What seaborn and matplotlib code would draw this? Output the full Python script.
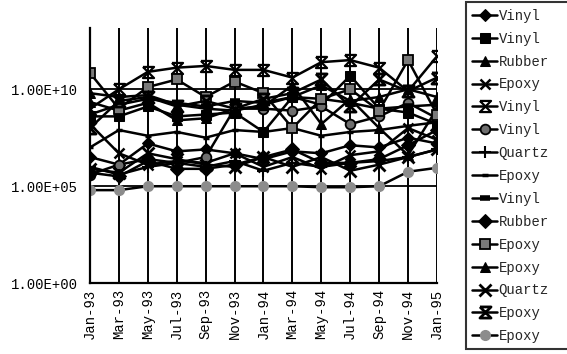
import matplotlib
matplotlib.use("Agg")
import matplotlib.pyplot as plt
from matplotlib.path import Path
import seaborn as sns
import pandas as pd

months = ["Jan-93", "Mar-93", "May-93", "Jul-93", "Sep-93", "Nov-93", "Jan-94",
          "Mar-94", "May-94", "Jul-94", "Sep-94", "Nov-94", "Jan-95"]

labels = ["Vinyl", "Vinyl", "Rubber", "Epoxy", "Vinyl", "Vinyl", "Quartz", "Epoxy",
          "Vinyl", "Rubber", "Epoxy", "Epoxy", "Quartz", "Epoxy", "Epoxy"]

# surface resistivity readings, one list per floor sample
s01 = [3.2e6, 1.3e6, 1.6e7, 6.3e6, 7.9e6, 5.0e6, 2.5e6, 6.3e6, 5.0e6, 1.3e7, 1.0e7, 3.2e7, 1.6e7]
s02 = [4.0e8, 4.0e8, 1.3e9, 4.0e8, 5.0e8, 6.3e8, 6.3e7, 4.0e9, 1.6e9, 5.0e10, 1.0e9, 6.3e8, 1.6e8]
s03 = [2.2e9, 7.9e8, 2.0e9, 2.5e8, 3.2e8, 1.0e9, 1.3e9, 1.6e10, 1.6e8, 3.2e9, 1.0e8, 4.0e6, 1.0e9]
s04 = [1.6e8, 5.0e6, 1.3e6, 2.0e6, 1.6e6, 5.0e6, 1.0e6, 3.2e6, 7.9e5, 4.0e6, 6.3e6, 1.0e8, 2.5e7]
s05 = [1.0e9, 1.0e10, 7.9e10, 1.3e11, 1.6e11, 1.0e11, 1.0e11, 4.0e10, 2.5e11, 3.2e11, 1.3e11, 7.9e9, 5.0e11]
s06 = [4.0e5, 1.3e6, 2.5e6, 1.6e6, 3.2e6, 1.0e9, 1.0e9, 7.9e8, 1.3e9, 1.6e8, 4.0e8, 2.0e9, 3.2e8]
s07 = [1.0e6, 4.0e5, 1.0e6, 1.6e6, 1.0e6, 2.0e6, 6.3e5, 1.6e6, 1.0e6, 1.6e6, 2.0e6, 3.2e6, 7.9e6]
s08 = [1.0e7, 7.9e7, 4.0e7, 6.3e7, 3.2e7, 7.9e7, 6.3e7, 1.0e8, 4.0e7, 6.3e7, 7.9e7, 1.3e8, 2.0e8]
s09 = [5.0e8, 1.6e9, 3.2e9, 2.0e9, 1.3e9, 2.5e9, 2.0e9, 4.0e9, 3.2e9, 2.0e9, 1.0e9, 1.3e9, 1.6e9]
s10 = [5.0e5, 3.2e5, 2.0e6, 7.9e5, 7.9e5, 1.3e6, 3.2e6, 7.9e6, 1.6e6, 1.6e6, 2.5e6, 1.3e7, 7.9e7]
s11 = [6.9e10, 1.0e9, 1.3e10, 3.2e10, 4.0e9, 2.5e10, 6.3e9, 1.0e8, 3.2e9, 1.0e10, 7.9e8, 3.2e11, 5.0e8]
s12 = [6.3e9, 4.0e9, 5.0e9, 1.6e9, 1.0e9, 7.9e8, 1.6e9, 4.0e9, 1.6e10, 2.5e9, 4.0e9, 1.0e10, 4.0e9]
s13 = [7.9e5, 5.0e5, 5.0e6, 2.5e6, 1.3e6, 1.0e6, 3.2e6, 1.0e6, 3.2e6, 6.3e5, 1.3e6, 3.2e6, 7.9e6]
s14 = [1.0e8, 2.5e9, 4.0e9, 1.3e9, 2.5e9, 1.0e9, 3.2e9, 6.3e9, 3.2e10, 1.3e9, 3.2e10, 7.9e9, 4.0e10]
s15 = [6.3e4, 6.3e4, 1.0e5, 1.0e5, 1.0e5, 1.0e5, 1.0e5, 1.0e5, 8.9e4, 8.9e4, 1.0e5, 5.6e5, 8.9e5]

series = [s01, s02, s03, s04, s05, s06, s07, s08, s09, s10, s11, s12, s13, s14, s15]

# hourglass (X with top and bottom bars)
hourglass = Path([(-1, 1), (1, 1), (-1, -1), (1, -1), (-1, 1)],
                 [Path.MOVETO, Path.LINETO, Path.LINETO, Path.LINETO, Path.LINETO])

styles = [
    dict(marker="D", ms=6.5, mfc="black", mec="black"),
    dict(marker="s", ms=7, mfc="black", mec="black"),
    dict(marker="^", ms=7.5, mfc="black", mec="black"),
    dict(marker="x", ms=7.5, mew=1.8, mec="black"),
    dict(marker=hourglass, ms=8, mfc="none", mec="black", mew=1.6),
    dict(marker="o", ms=7, mfc="#6e6e6e", mec="black", mew=1.3),
    dict(marker="+", ms=8, mew=1.5, mec="black"),
    dict(marker="_", ms=5, mew=2.5, mec="black"),
    dict(marker="_", ms=7, mew=4, mec="black"),
    dict(marker="D", ms=7, mfc="black", mec="black"),
    dict(marker="s", ms=7.5, mfc="#7a7a7a", mec="black", mew=1.3),
    dict(marker="^", ms=7.5, mfc="black", mec="black"),
    dict(marker="x", ms=8, mew=2, mec="black"),
    dict(marker=hourglass, ms=8, mfc="none", mec="black", mew=2),
    dict(marker="o", ms=7, mfc="#8c8c8c", mec="#8c8c8c", mew=1),
]

sns.set_theme(style="white")
plt.rcParams["font.family"] = ["Liberation Mono", "DejaVu Sans"]

fig = plt.figure(figsize=(5.67, 3.54), dpi=100)
ax = fig.add_axes([0.1587, 0.2, 0.612, 0.721])

pos = list(range(len(months)))
for vals, name, st in zip(series, labels, styles):
    df = pd.DataFrame({"month": pos, "value": vals})
    sns.lineplot(data=df, x="month", y="value", ax=ax, color="black",
                 linewidth=1.8, sort=False, label=name, **st)

ax.set_yscale("log")
ax.set_ylim(1, 1.45e13)
ax.set_xlim(0, len(months) - 1)
ax.set_yticks([1, 1e5, 1e10])
ax.set_yticklabels(["1.00E+00", "1.00E+05", "1.00E+10"], fontsize=10, color="black")
ax.minorticks_off()
ax.set_xticks(pos)
ax.set_xticklabels(months, rotation=90, fontsize=10, color="black")
ax.tick_params(axis="y", length=0, pad=9)
ax.tick_params(axis="x", length=0, pad=4)
ax.set_xlabel("")
ax.set_ylabel("")

for x in pos:
    ax.axvline(x, color="black", linewidth=1.4, zorder=0)
for y in [1e5, 1e10]:
    ax.axhline(y, color="black", linewidth=1.3, zorder=0)

for side in ["top", "right"]:
    ax.spines[side].set_visible(False)
for side in ["left", "bottom"]:
    ax.spines[side].set_color("black")
    ax.spines[side].set_linewidth(1.6)

ax.legend_.remove()
handles, names = ax.get_legend_handles_labels()
leg = fig.legend(handles, names, loc="upper left",
                 bbox_to_anchor=(0.822, 0.993, 0.2, 0), mode="expand",
                 fontsize=10, frameon=True, fancybox=False, edgecolor="black",
                 handlelength=1.8, handletextpad=0.1, labelspacing=0.64,
                 borderpad=0.45, borderaxespad=0)
leg.get_frame().set_linewidth(1.5)

fig.savefig("out.png", dpi=100)
